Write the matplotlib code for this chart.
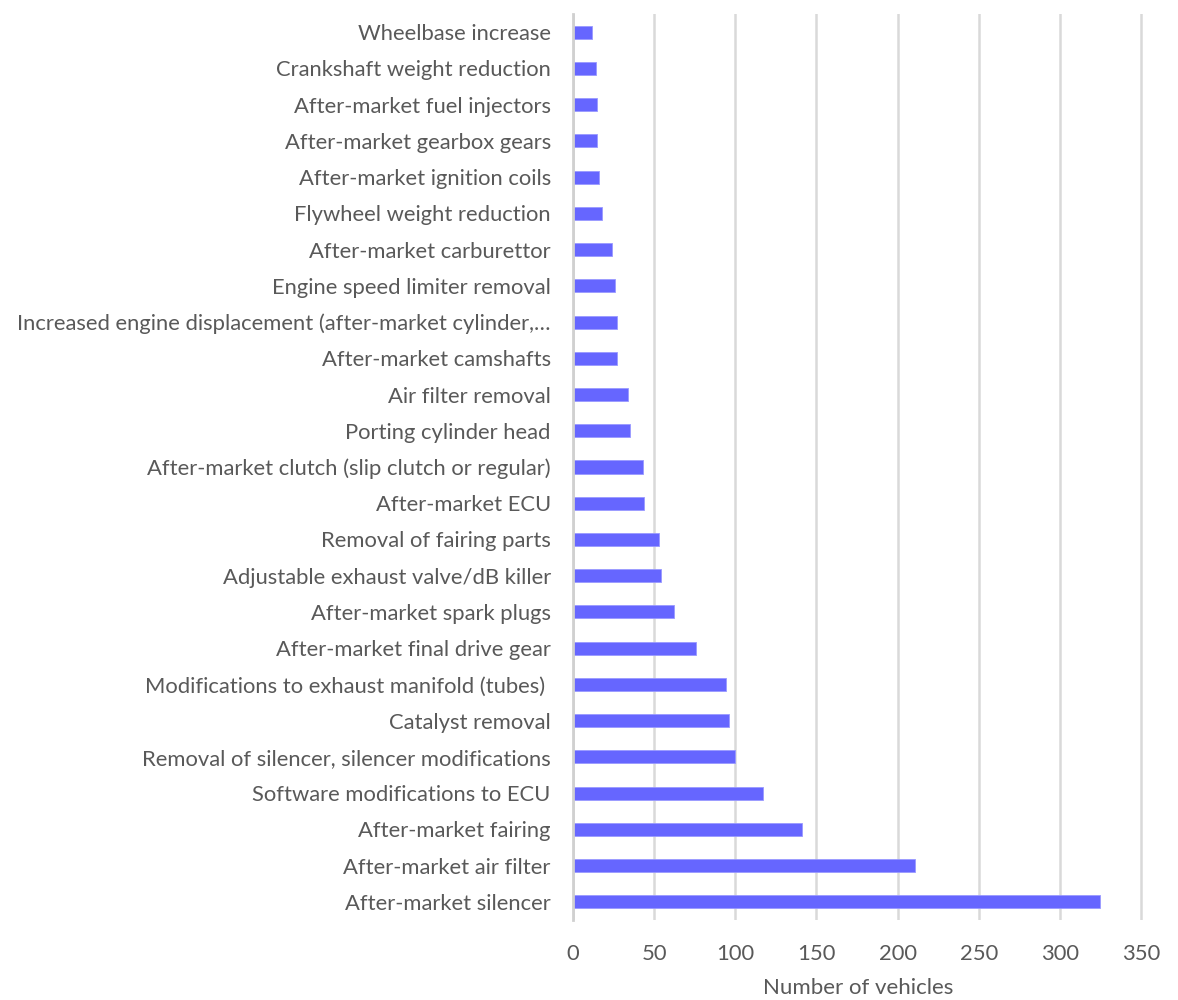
import matplotlib.pyplot as plt
import numpy as np

plt.rcParams['font.family'] = ['Lato', 'DejaVu Sans']

modifications = [
    "After-market silencer",
    "After-market air filter",
    "After-market fairing",
    "Software modifications to ECU",
    "Removal of silencer, silencer modifications",
    "Catalyst removal",
    "Modifications to exhaust manifold (tubes) ",
    "After-market final drive gear",
    "After-market spark plugs",
    "Adjustable exhaust valve/dB killer",
    "Removal of fairing parts",
    "After-market ECU",
    "After-market clutch (slip clutch or regular)",
    "Porting cylinder head",
    "Air filter removal",
    "After-market camshafts",
    "Increased engine displacement (after-market cylinder,\u2026",
    "Engine speed limiter removal",
    "After-market carburettor",
    "Flywheel weight reduction",
    "After-market ignition coils",
    "After-market gearbox gears",
    "After-market fuel injectors",
    "Crankshaft weight reduction",
    "Wheelbase increase",
]
vehicles = [325, 211, 141, 117, 100, 96, 94, 76, 62, 54, 53, 44, 43, 35, 34,
            27, 27, 26, 24, 18, 16, 15, 15, 14, 12]

fig = plt.figure(figsize=(11.78, 10), dpi=100)
ax = fig.add_axes([0.4864, 0.08, 0.4836, 0.906])

y = np.arange(len(modifications))
ax.barh(y, vehicles, height=0.36, color="#6666ff", edgecolor="#9999ff",
        linewidth=0.6, zorder=3)

ax.set_xlim(0, 351)
ax.set_ylim(-0.5, len(modifications) - 0.5)
ax.set_xticks(np.arange(0, 351, 50))
ax.set_yticks(y)
ax.set_yticklabels(modifications)

ax.grid(axis="x", color="#d9d9d9", linewidth=1.8, zorder=0)
ax.grid(axis="y", visible=False)
for s in ["top", "right", "bottom"]:
    ax.spines[s].set_visible(False)
ax.spines["left"].set_color("#d0d0d0")
ax.spines["left"].set_linewidth(2)
ax.spines["left"].set_zorder(4)

ax.tick_params(axis="y", length=0, pad=16, labelsize=15.8, labelcolor="#595959")
ax.tick_params(axis="x", length=0, pad=17, labelsize=15.8, labelcolor="#595959")
ax.set_xlabel("Number of vehicles", fontsize=16, color="#595959", labelpad=10)

plt.savefig("out.png", dpi=100)
